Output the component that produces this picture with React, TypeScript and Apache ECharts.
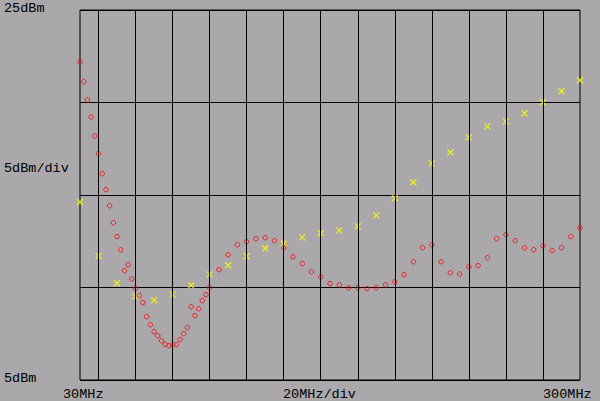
import React, { useEffect, useRef } from "react";
import * as echarts from "echarts";

const redFreq = [
  30, 32, 34, 36, 38, 40, 42, 44, 46, 48, 50, 52, 54, 56, 58, 60, 62, 64, 66, 68,
  70, 72, 74, 76, 78, 80, 82, 84, 86, 88, 90, 92, 94, 96, 98, 100,
  105, 110, 115, 120, 125, 130, 135, 140, 145, 150, 155, 160, 165, 170, 175, 180,
  185, 190, 195, 200, 205, 210, 215, 220, 225, 230, 235, 240, 245, 250, 255, 260,
  265, 270, 275, 280, 285, 290, 295, 300,
];
const redLevel = [
  22.21, 21.12, 20.14, 19.22, 18.19, 17.23, 16.15, 15.29, 14.42, 13.5, 12.75, 12.04,
  10.91, 11.23, 10.46, 9.96, 9.56, 9.18, 8.42, 7.99, 7.61, 7.39, 7.12, 6.93, 6.85,
  6.91, 6.91, 7.18, 7.5, 7.83, 8.96, 8.48, 8.85, 9.29, 9.61, 9.99,
  10.96, 11.77, 12.31, 12.48, 12.64, 12.69, 12.53, 12.15, 11.66, 11.29, 10.85, 10.58,
  10.21, 10.14, 9.99, 9.99, 9.94, 9.99, 10.15, 10.31, 10.69, 11.39, 12.15, 12.31,
  11.39, 10.8, 10.73, 11.12, 11.18, 11.61, 12.64, 12.85, 12.53, 12.14, 12.04, 12.26,
  11.99, 12.15, 12.75, 13.23,
];
const yellowFreq = [
  30, 40, 50, 60, 70, 80, 90, 100, 110, 120, 130, 140, 150, 160, 170, 180, 190, 200,
  210, 220, 230, 240, 250, 260, 270, 280, 290, 300,
];
const yellowLevel = [
  14.62, 11.7, 10.23, 9.52, 9.31, 9.63, 10.12, 10.71, 11.2, 11.69, 12.12, 12.37, 12.71,
  12.93, 13.09, 13.31, 13.9, 14.82, 15.69, 16.71, 17.31, 18.12, 18.71, 18.98, 19.42,
  20.01, 20.61, 21.2,
];
const gridFreqs = [40, 60, 80, 100, 120, 140, 160, 180, 200, 220, 240, 260, 280];
const refLabel = "25dBm";
const scaleLabel = "5dBm/div";
const bottomLabel = "5dBm";
const startLabel = "30MHz";
const spanLabel = "20MHz/div";
const stopLabel = "300MHz";

const FONT = "'Liberation Mono', 'DejaVu Sans Mono', monospace";

export default function App() {
  const ref = useRef<HTMLDivElement>(null);
  useEffect(() => {
    document.body.style.margin = "0";
    const chart = echarts.init(ref.current!, undefined, { renderer: "svg" });
    const txt = (text: string, x: number, y: number, align: string = "left") => ({
      type: "text",
      x,
      y,
      style: {
        text,
        fill: "#000",
        font: `13.5px ${FONT}`,
        align,
        verticalAlign: "middle",
      },
    });
    chart.setOption({
      animation: false,
      backgroundColor: "#aaa8aa",
      grid: {
        left: 80,
        right: 20,
        top: 10,
        bottom: 21,
        show: true,
        borderColor: "#000",
        borderWidth: 1,
        backgroundColor: "transparent",
      },
      xAxis: {
        type: "value",
        min: 30,
        max: 300,
        axisLine: { show: false },
        axisTick: { show: false },
        axisLabel: { show: false },
        splitLine: { show: false },
      },
      yAxis: {
        type: "value",
        min: 5,
        max: 25,
        interval: 5,
        axisLine: { show: false },
        axisTick: { show: false },
        axisLabel: { show: false },
        splitLine: { show: true, lineStyle: { color: "#000", width: 1 } },
      },
      series: [
        {
          type: "scatter",
          data: [],
          z: 1,
          silent: true,
          markLine: {
            silent: true,
            symbol: "none",
            label: { show: false },
            lineStyle: { color: "#000", width: 1, type: "solid" },
            data: gridFreqs.map((f) => ({ xAxis: f })),
          },
        },
        {
          type: "scatter",
          z: 3,
          data: yellowFreq.map((f, i) => [f, yellowLevel[i]]),
          symbol: "path://M0 0L6 6M6 0L0 6",
          symbolSize: 6,
          itemStyle: { color: "none", borderColor: "#ffff00", borderWidth: 1.3 },
        },
        {
          type: "scatter",
          z: 4,
          data: redFreq.map((f, i) => [f, redLevel[i]]),
          symbol: "circle",
          symbolSize: 4.5,
          itemStyle: { color: "transparent", borderColor: "#ff0000", borderWidth: 1 },
        },
      ],
      graphic: [
        txt(refLabel, 4, 8),
        txt(scaleLabel, 4, 168),
        txt(bottomLabel, 4, 378),
        txt(startLabel, 63, 394),
        txt(spanLabel, 283, 394),
        txt(stopLabel, 543, 394),
      ],
    });
    return () => chart.dispose();
  }, []);
  return (
    <div
      ref={ref}
      style={{ position: "absolute", left: 0, top: 0, width: 600, height: 401 }}
    />
  );
}
